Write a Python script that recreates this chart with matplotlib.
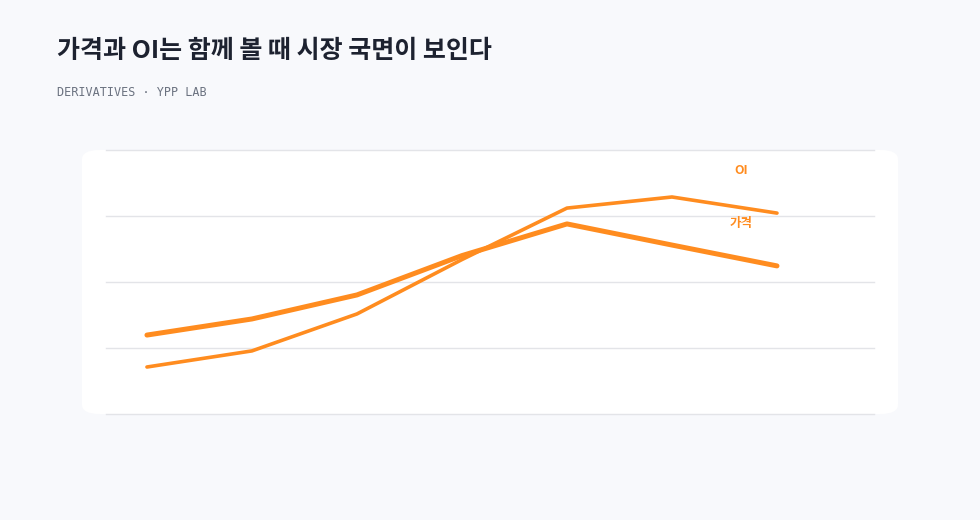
import matplotlib
matplotlib.use("Agg")
import matplotlib.pyplot as plt
from matplotlib.patches import FancyBboxPatch

plt.rcParams['font.family'] = ['Noto Sans CJK KR', 'DejaVu Sans']

# data (arbitrary 0-100 scale)
periods = ["1", "2", "3", "4", "5", "6", "7"]
price = [29.9, 36.0, 45.1, 60.0, 72.0, 64.0, 56.1]
oi = [17.8, 23.9, 37.9, 58.5, 78.0, 82.2, 76.1]

orange = "#ff8c1f"
bg = "#f8f9fc"

fig = plt.figure(figsize=(9.8, 5.2), dpi=100)
fig.patch.set_facecolor(bg)

# white panel behind the plot
W, H = 980, 520
panel = FancyBboxPatch((82 / W, (520 - 414) / H), (898 - 82) / W, (414 - 150) / H,
                       boxstyle="round,pad=0,rounding_size=0.018",
                       transform=fig.transFigure, facecolor="white",
                       edgecolor="none", zorder=-5)
fig.patches.append(panel)

ax = fig.add_axes([106 / W, (520 - 414) / H, 768 / W, 264 / H])
ax.set_facecolor("none")

x = list(range(len(periods)))
ax.plot(x, price, color=orange, lw=3.6, solid_capstyle="round", zorder=3)
ax.plot(x, oi, color=orange, lw=2.6, solid_capstyle="round", zorder=3)

ax.set_xlim(-0.39, 6.924)
ax.set_ylim(0, 100)
ax.set_yticks([0, 25, 50, 75, 100])
ax.set_xticks([])
ax.tick_params(left=False, labelleft=False)
ax.grid(axis="y", color="#e3e4e8", lw=1)
for gl in ax.get_ygridlines():
    gl.set_clip_on(False)
for s in ax.spines.values():
    s.set_visible(False)

ax.annotate("OI", (x[-1], oi[-1]), xytext=(-36, 43), textcoords="offset pixels",
            ha="center", va="center", color=orange, fontsize=9, fontweight="bold")
ax.annotate("가격", (x[-1], price[-1]), xytext=(-36, 42), textcoords="offset pixels",
            ha="center", va="center", color=orange, fontsize=9, fontweight="bold")

fig.text(57 / W, 1 - 51 / H, "가격과 OI는 함께 볼 때 시장 국면이 보인다",
         fontsize=18, fontweight="bold", color="#1d2230", va="center", ha="left")
fig.text(57 / W, 1 - 92 / H, "DERIVATIVES · YPP LAB", family="DejaVu Sans Mono",
         fontsize=8.5, color="#6b7280", va="center", ha="left")

fig.savefig("out.png", dpi=100, facecolor=bg)
